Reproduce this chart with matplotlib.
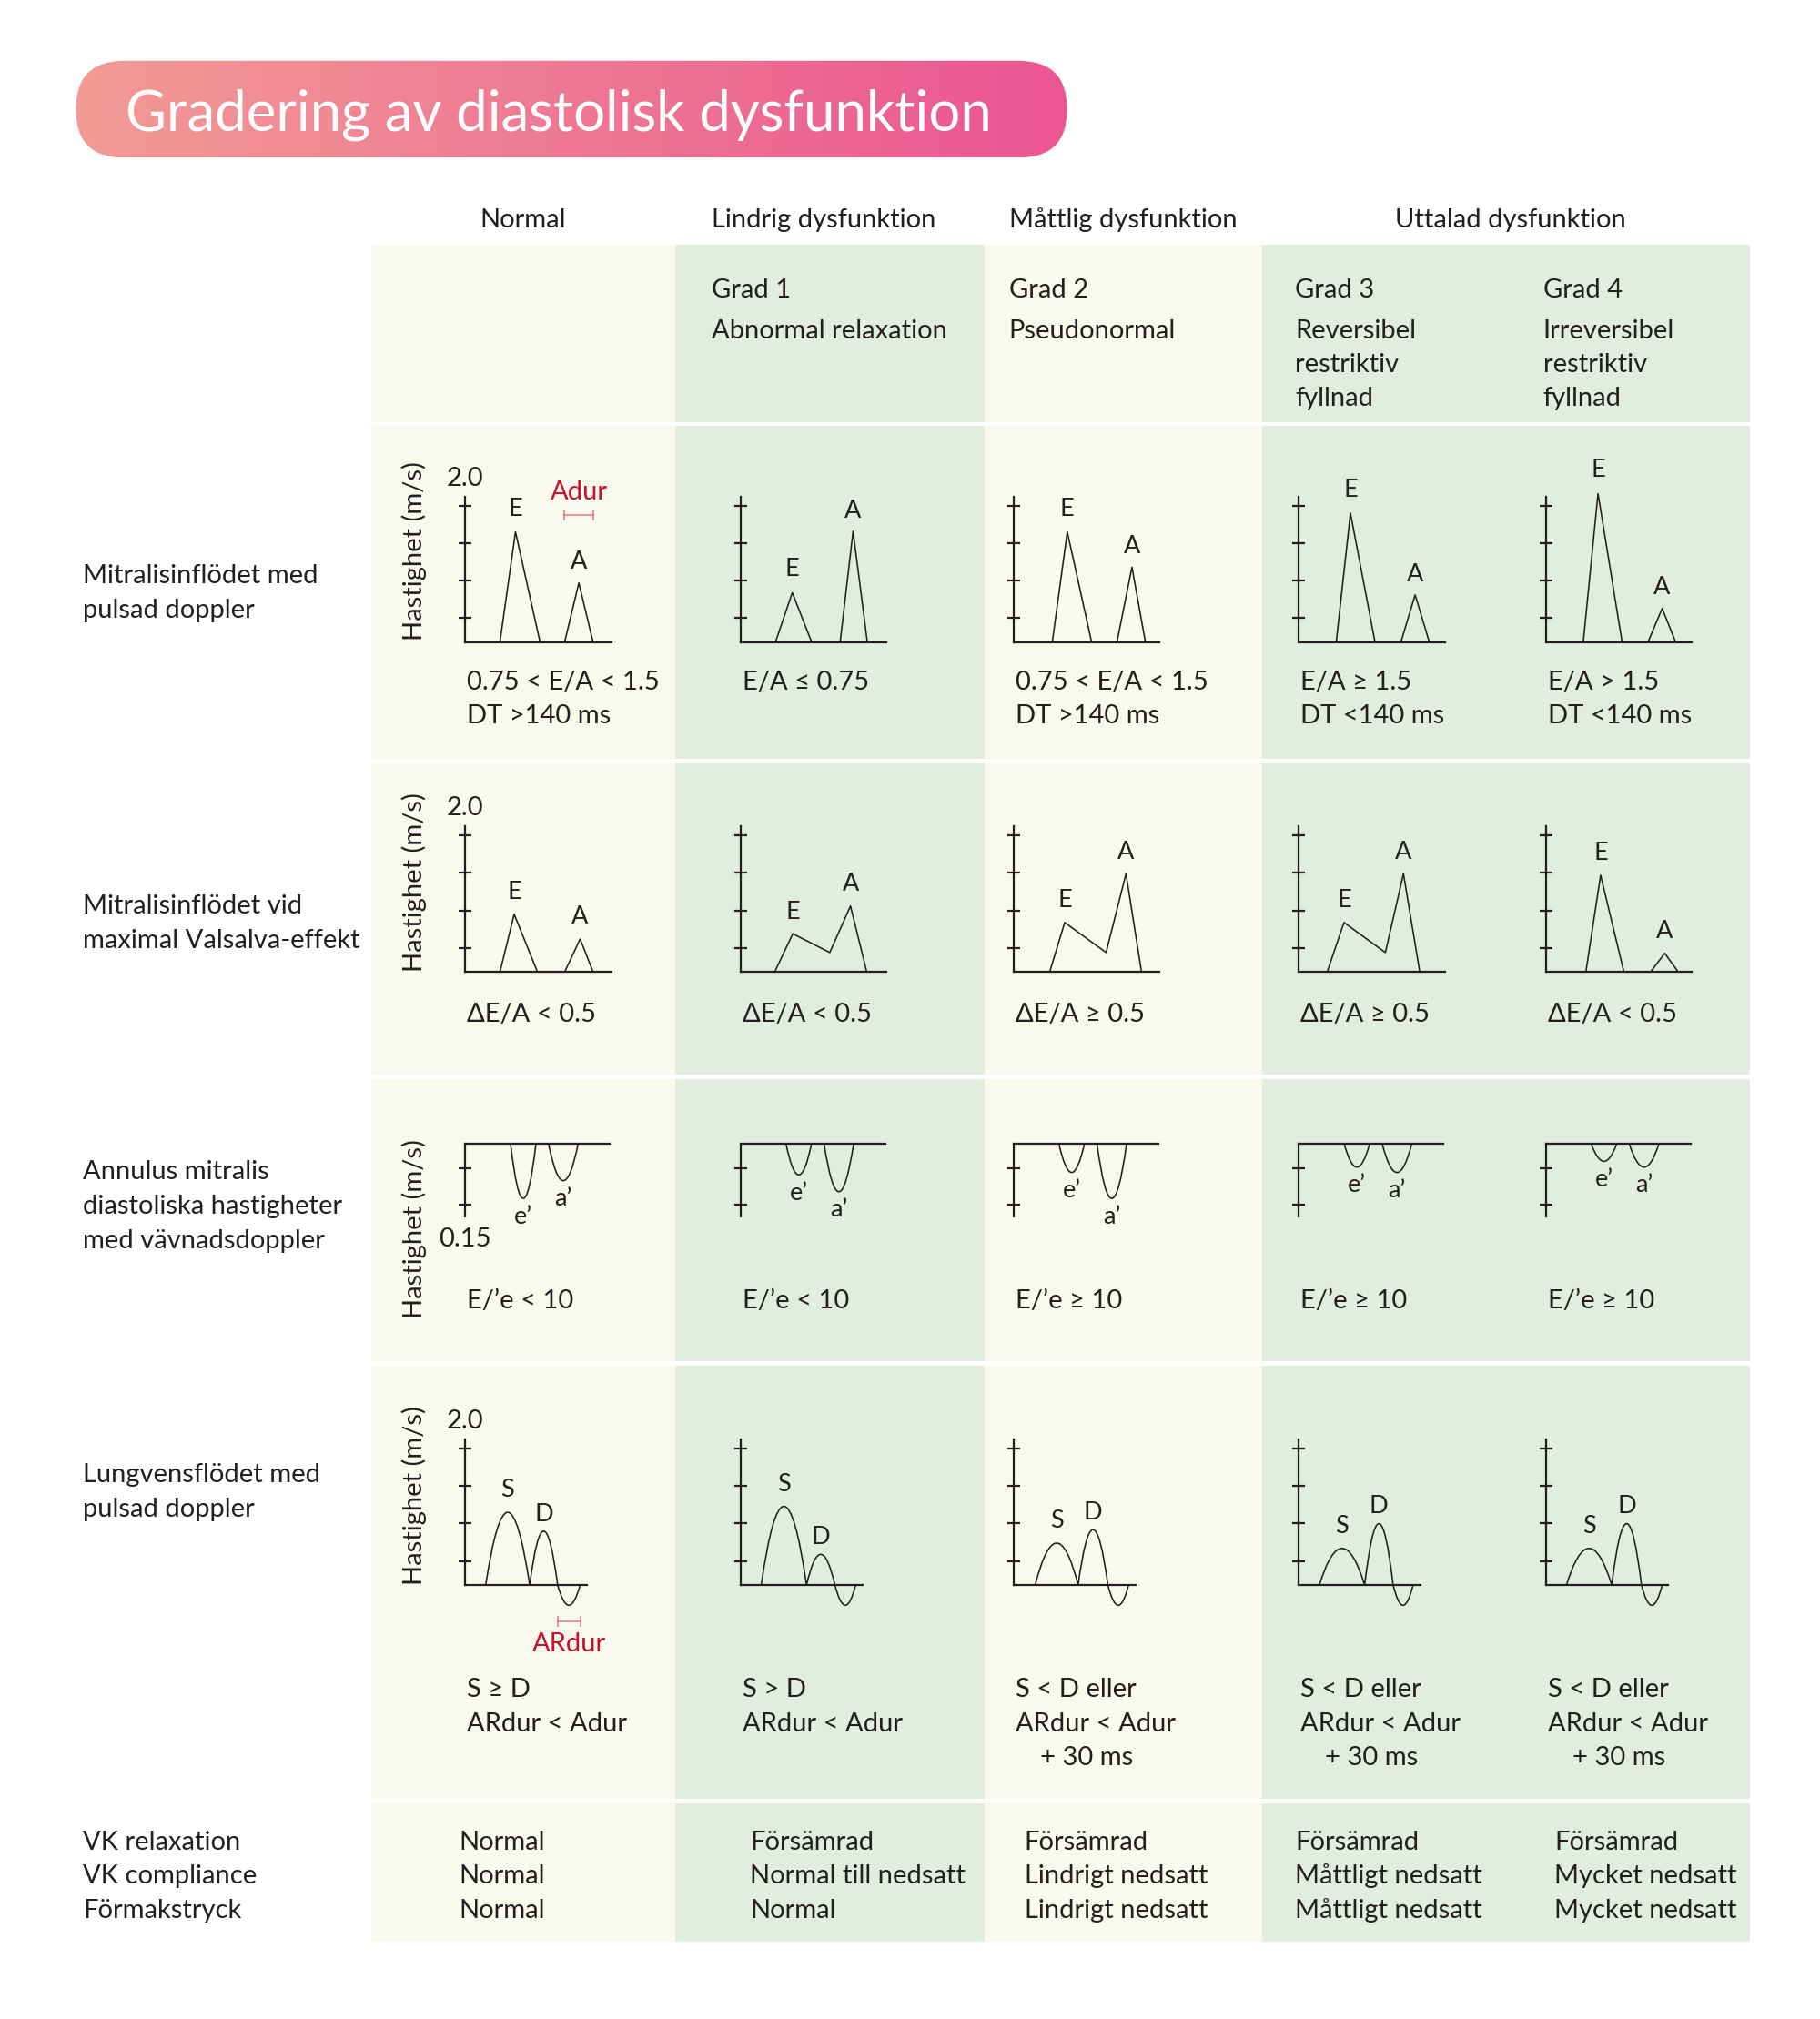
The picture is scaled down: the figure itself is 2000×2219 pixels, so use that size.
import numpy as np
import matplotlib
matplotlib.use("Agg")
import matplotlib.pyplot as plt
from matplotlib.patches import Rectangle, FancyBboxPatch, PathPatch
from matplotlib.path import Path
from matplotlib.colors import LinearSegmentedColormap

plt.rcParams["font.family"] = ["Lato", "DejaVu Sans"]

INK = "#231F20"
CREAM = "#F9F9EE"
GREEN = "#E0EDDF"
RED = "#C8102E"
RED_LIGHT = "#E8747E"

# ---- texts ----
TITLE = "Gradering av diastolisk dysfunktion"
GROUPS = ["Normal", "Lindrig dysfunktion", "Måttlig dysfunktion", "Uttalad dysfunktion"]
GRADES = [[], ["Grad 1", "Abnormal relaxation"], ["Grad 2", "Pseudonormal"],
          ["Grad 3", "Reversibel", "restriktiv", "fyllnad"],
          ["Grad 4", "Irreversibel", "restriktiv", "fyllnad"]]
ROW_LABELS = [["Mitralisinflödet med", "pulsad doppler"],
              ["Mitralisinflödet vid", "maximal Valsalva-effekt"],
              ["Annulus mitralis", "diastoliska hastigheter", "med vävnadsdoppler"],
              ["Lungvensflödet med", "pulsad doppler"],
              ["VK relaxation", "VK compliance", "Förmakstryck"]]
MITRAL_TXT = [["0.75 < E/A < 1.5", "DT >140 ms"], ["E/A ≤ 0.75"], ["0.75 < E/A < 1.5", "DT >140 ms"],
              ["E/A ≥ 1.5", "DT <140 ms"], ["E/A > 1.5", "DT <140 ms"]]
VALSALVA_TXT = ["ΔE/A < 0.5", "ΔE/A < 0.5", "ΔE/A ≥ 0.5", "ΔE/A ≥ 0.5", "ΔE/A < 0.5"]
TDI_TXT = ["E/’e < 10", "E/’e < 10", "E/’e ≥ 10", "E/’e ≥ 10", "E/’e ≥ 10"]
PV_TXT = [["S ≥ D", "ARdur < Adur"], ["S > D", "ARdur < Adur"],
          ["S < D eller", "ARdur < Adur", "+ 30 ms"],
          ["S < D eller", "ARdur < Adur", "+ 30 ms"],
          ["S < D eller", "ARdur < Adur", "+ 30 ms"]]
STATUS = [["Normal", "Normal", "Normal"],
          ["Försämrad", "Normal till nedsatt", "Normal"],
          ["Försämrad", "Lindrigt nedsatt", "Lindrigt nedsatt"],
          ["Försämrad", "Måttligt nedsatt", "Måttligt nedsatt"],
          ["Försämrad", "Mycket nedsatt", "Mycket nedsatt"]]

# ---- waveform data (time in ms, velocity in m/s) ----
# mitral inflow, pulsed doppler (E and A triangles)
MITRAL_T = [[135, 195, 290, 385, 440, 495],
            [135, 200, 275, 385, 435, 490],
            [150, 208, 302, 400, 458, 510],
            [145, 200, 295, 395, 450, 505],
            [145, 202, 295, 395, 450, 502]]
MITRAL_V = [[0, 1.47, 0, 0, 0.79, 0],
            [0, 0.66, 0, 0, 1.48, 0],
            [0, 1.47, 0, 0, 1.00, 0],
            [0, 1.72, 0, 0, 0.63, 0],
            [0, 1.98, 0, 0, 0.45, 0]]
# mitral inflow at Valsalva
VALS_T = [[135, 190, 280, 385, 445, 495],
          [132, 202, 345, 425, 488],
          [140, 198, 358, 435, 495],
          [110, 175, 335, 405, 468],
          [155, 212, 302, 405, 460, 512]]
VALS_V = [[0, 0.77, 0, 0, 0.44, 0],
          [0, 0.51, 0.26, 0.88, 0],
          [0, 0.66, 0.26, 1.31, 0],
          [0, 0.66, 0.26, 1.31, 0],
          [0, 1.29, 0, 0, 0.25, 0]]
# tissue doppler e' and a' (m/s, negative direction)
E_PRIME = [0.113, 0.064, 0.059, 0.048, 0.036]
A_PRIME = [0.076, 0.099, 0.113, 0.059, 0.048]
E_PRIME_T = (176, 274)
A_PRIME_T = (323, 437)
# pulmonary vein flow: S start, S/D junction, D end, AR end
PV_T = [[80, 250, 358, 445], [80, 255, 365, 445], [84, 250, 365, 445],
        [80, 255, 365, 442], [80, 255, 370, 450]]
PV_S = [0.97, 1.05, 0.56, 0.49, 0.49]
PV_D = [0.72, 0.41, 0.74, 0.82, 0.82]
PV_AR = [0.27, 0.27, 0.27, 0.27, 0.27]

VEL_TICKS = [0.32, 0.82, 1.32, 1.82]
VEL_TOP = 1.94
TDI_TICKS = [-0.05, -0.125]
TDI_BOTTOM = -0.15

# ---- layout (reference pixel grid) ----
W, H = 1407, 1561
PT = 2000 / W * 72 / 100   # points per reference pixel
COL_EDGES = [287, 522, 761, 976, 1353]
COL_FILL = [CREAM, GREEN, CREAM, GREEN]
ROW_TOP = [189, 329.5, 590, 834, 1056, 1394]
ROW_BOT = [326.5, 587, 831, 1052.5, 1391, 1501]
AXIS_X = [359.5, 572.5, 783.5, 1004, 1195]
STATUS_X = [354.5, 580, 792, 1001, 1201.5]
SX = 0.2      # px per ms
SY = 58.0     # px per m/s
SY_TDI = 373.0
FS = 21
FS_LBL = 19.5

fig = plt.figure(figsize=(20, 22.19), dpi=100)
bg = fig.add_axes([0, 0, 1, 1])


def txt(x, y, s, **kw):
    kw.setdefault("fontsize", FS)
    kw.setdefault("color", INK)
    kw.setdefault("va", "baseline")
    bg.text(x, y, s, **kw)


# title pill
pill = FancyBboxPatch((58.6, 47), 766.4, 75, boxstyle="round,pad=0,rounding_size=37.5",
                      fc="none", ec="none")
bg.add_patch(pill)
cmap = LinearSegmentedColormap.from_list("pill", ["#F29B95", "#EB5592"])
im = bg.imshow(np.linspace(0, 1, 256)[None, :], cmap=cmap, extent=(58.6, 825, 122, 47),
               aspect="auto", zorder=1)
im.set_clip_path(pill)
txt(97.4, 100.8, TITLE, color="white", fontsize=44.5, zorder=2)

bg.set_xlim(0, W)
bg.set_ylim(H, 0)
bg.axis("off")

# panels
for r in range(len(ROW_TOP)):
    for c in range(4):
        bg.add_patch(Rectangle((COL_EDGES[c], ROW_TOP[r]), COL_EDGES[c + 1] - COL_EDGES[c],
                               ROW_BOT[r] - ROW_TOP[r], fc=COL_FILL[c], ec="none", zorder=0))

# headers
txt(404, 176, GROUPS[0], ha="center")
txt(550, 176, GROUPS[1])
txt(780, 176, GROUPS[2])
txt(1168, 176, GROUPS[3], ha="center")
grade_x = [None, 550, 780, 1001, 1193]
for c, lines in enumerate(GRADES):
    for i, s in enumerate(lines):
        txt(grade_x[c], 230 + (32 + 26 * (i - 1) if i else 0), s)

# row labels
label_base = [451, 706.5, 912, 1146, 1430]
for r, lines in enumerate(ROW_LABELS):
    for i, s in enumerate(lines):
        txt(64, label_base[r] + 26.5 * i, s)

for yc in [426, 682, 950, 1156]:
    txt(320, yc, "Hastighet (m/s)", rotation=90, ha="center", va="center")

# captions
for c in range(5):
    x = AXIS_X[c] + 1.5
    for i, s in enumerate(MITRAL_TXT[c]):
        txt(x, 533 + 26 * i, s)
    txt(x, 790, VALSALVA_TXT[c])
    txt(x, 1011.5, TDI_TXT[c])
    for i, s in enumerate(PV_TXT[c]):
        txt(x + (19 if i == 2 else 0), 1312 + 26.5 * i, s)
    for i, s in enumerate(STATUS[c]):
        txt(STATUS_X[c], 1430 + 26.5 * i, s)


def mini_axes(x0, y0, sy, xlim, ylim):
    left = (x0 + xlim[0] * SX) / W
    right = (x0 + xlim[1] * SX) / W
    bottom = 1 - (y0 - ylim[0] * sy) / H
    top = 1 - (y0 - ylim[1] * sy) / H
    ax = fig.add_axes([left, bottom, right - left, top - bottom])
    ax.set_xlim(*xlim)
    ax.set_ylim(*ylim)
    ax.patch.set_visible(False)
    for s in ["top", "right"]:
        ax.spines[s].set_visible(False)
    for s in ["left", "bottom"]:
        ax.spines[s].set_position(("data", 0))
        ax.spines[s].set_linewidth(1.6)
        ax.spines[s].set_color(INK)
    ax.set_xticks([])
    ax.tick_params(axis="y", direction="inout", length=10, width=1.6, color=INK, labelleft=False)
    return ax


def label(ax, x, y, s, dy, **kw):
    kw.setdefault("fontsize", FS_LBL)
    kw.setdefault("color", INK)
    ax.annotate(s, (x, y), xytext=(0, dy * PT), textcoords="offset points",
                ha="center", va="center", annotation_clip=False, **kw)


def arch_path(segments):
    # segments: list of (t0, t1, height); parabolic arches drawn as quadratic Bezier curves
    verts = [(segments[0][0], 0)]
    codes = [Path.MOVETO]
    for t0, t1, h in segments:
        verts += [((t0 + t1) / 2, 2 * h), (t1, 0)]
        codes += [Path.CURVE3, Path.CURVE3]
    return Path(verts, codes)


LW = 1.15
XLIM = (-40, 620)

for c in range(5):
    # row 1: mitral inflow
    ax = mini_axes(AXIS_X[c], 496.5, SY, XLIM, (-0.9, 2.3))
    ax.spines["left"].set_bounds(0, VEL_TOP)
    ax.spines["bottom"].set_bounds(0, 565)
    ax.set_yticks(VEL_TICKS)
    t, v = MITRAL_T[c], MITRAL_V[c]
    ax.plot(t, v, color=INK, lw=LW, clip_on=False)
    label(ax, t[1], v[1], "E", 18)
    label(ax, t[-2], v[-2], "A", 16)
    if c == 0:
        label(ax, 0, VEL_TOP, "2.0", 14, fontsize=FS)
        ax.plot([t[3], t[5]], [1.70, 1.70], color=RED_LIGHT, lw=1.1,
                marker="|", ms=9, mew=1.1)
        label(ax, (t[3] + t[5]) / 2, 1.70, "Adur", 17, color=RED, fontsize=FS)

    # row 2: Valsalva
    ax = mini_axes(AXIS_X[c], 751.5, SY, XLIM, (-0.9, 2.3))
    ax.spines["left"].set_bounds(0, VEL_TOP)
    ax.spines["bottom"].set_bounds(0, 565)
    ax.set_yticks(VEL_TICKS)
    t, v = VALS_T[c], VALS_V[c]
    ax.plot(t, v, color=INK, lw=LW, clip_on=False)
    label(ax, t[1], v[1], "E", 17)
    label(ax, t[-2], v[-2], "A", 17)
    if c == 0:
        label(ax, 0, VEL_TOP, "2.0", 14, fontsize=FS)

    # row 3: tissue doppler
    ax = mini_axes(AXIS_X[c], 884.5, SY_TDI, XLIM, (-0.2, 0.03))
    ax.spines["left"].set_bounds(TDI_BOTTOM, 0)
    ax.spines["bottom"].set_bounds(0, 560)
    ax.set_yticks(TDI_TICKS)
    for (t0, t1), d, s in [(E_PRIME_T, E_PRIME[c], "e’"), (A_PRIME_T, A_PRIME[c], "a’")]:
        ax.add_patch(PathPatch(arch_path([(t0, t1, -d)]), fc="none", ec=INK, lw=LW, clip_on=False))
        label(ax, (t0 + t1) / 2, -d, s, -14)
    if c == 0:
        label(ax, 0, TDI_BOTTOM, "0.15", -17.5, fontsize=FS)

    # row 4: pulmonary vein flow
    ax = mini_axes(AXIS_X[c], 1225.5, SY, XLIM, (-0.9, 2.3))
    ax.spines["left"].set_bounds(0, VEL_TOP)
    ax.spines["bottom"].set_bounds(0, 472)
    ax.set_yticks(VEL_TICKS)
    t0, t1, t2, t3 = PV_T[c]
    segs = [(t0, t1, PV_S[c]), (t1, t2, PV_D[c]), (t2, t3, -PV_AR[c])]
    ax.add_patch(PathPatch(arch_path(segs), fc="none", ec=INK, lw=LW, clip_on=False))
    label(ax, (t0 + t1) / 2, PV_S[c], "S", 17)
    label(ax, (t1 + t2) / 2, PV_D[c], "D", 13)
    if c == 0:
        label(ax, 0, VEL_TOP, "2.0", 14, fontsize=FS)
        ax.plot([t2, t3], [-0.49, -0.49], color=RED_LIGHT, lw=1.1,
                marker="|", ms=9, mew=1.1)
        label(ax, (t2 + t3) / 2, -0.49, "ARdur", -17, color=RED, fontsize=FS)

fig.savefig("out.png", dpi=100)
